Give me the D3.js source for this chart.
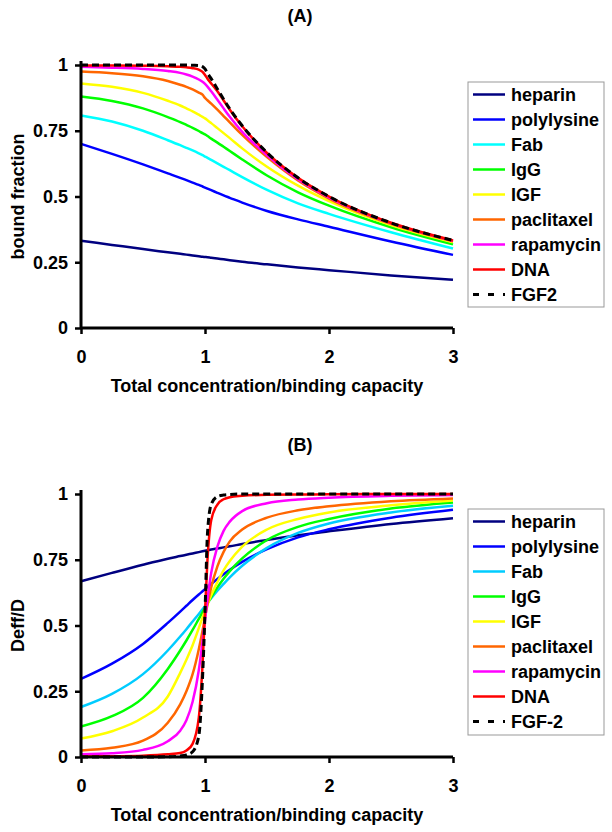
<!DOCTYPE html>
<html>
<head>
<meta charset="utf-8">
<script src="https://cdn.jsdelivr.net/npm/d3@7"></script>
<style>
  html, body { margin: 0; padding: 0; background: #fff; }
  svg { display: block; }
  text { font-family: "Liberation Sans", Arial, sans-serif; font-weight: bold; fill: #000; }
</style>
</head>
<body>
<svg id="chart" width="612" height="832"></svg>
<script>
// ---------- data ----------
const xGrid = [0, 0.25, 0.5, 0.7, 0.8, 0.85, 0.9, 0.95, 0.98, 1, 1.02, 1.05, 1.1, 1.15, 1.2, 1.3, 1.5, 1.75, 2, 2.5, 3];

const seriesNamesA = ["heparin", "polylysine", "Fab", "IgG", "IGF", "paclitaxel", "rapamycin", "DNA", "FGF2"];
const seriesNamesB = ["heparin", "polylysine", "Fab", "IgG", "IGF", "paclitaxel", "rapamycin", "DNA", "FGF-2"];
const xTicks = [0, 1, 2, 3];
const yTicks = [0, 0.25, 0.5, 0.75, 1];
const yTickLabels = ["0", "0.25", "0.5", "0.75", "1"];

// Panel A: bound fraction
const boundHeparin    = [0.332,0.316,0.300,0.288,0.282,0.279,0.276,0.273,0.271,0.270,0.269,0.267,0.264,0.261,0.258,0.252,0.242,0.230,0.220,0.200,0.183];
const boundPolylysine = [0.700,0.662,0.622,0.588,0.571,0.562,0.553,0.544,0.538,0.534,0.530,0.524,0.514,0.504,0.495,0.477,0.445,0.413,0.385,0.329,0.278];
const boundFab        = [0.808,0.785,0.750,0.714,0.695,0.685,0.675,0.664,0.657,0.652,0.647,0.639,0.626,0.613,0.600,0.574,0.525,0.474,0.434,0.364,0.302];
const boundIgG        = [0.880,0.863,0.835,0.802,0.783,0.772,0.761,0.749,0.741,0.736,0.730,0.720,0.705,0.689,0.673,0.641,0.580,0.516,0.465,0.383,0.318];
const boundIGF        = [0.930,0.917,0.894,0.864,0.846,0.835,0.824,0.811,0.803,0.797,0.790,0.779,0.760,0.741,0.722,0.683,0.613,0.541,0.482,0.391,0.326];
const boundPaclitaxel = [0.975,0.969,0.957,0.939,0.925,0.917,0.907,0.895,0.887,0.875,0.866,0.853,0.830,0.806,0.782,0.734,0.650,0.561,0.492,0.396,0.330];
const boundRapamycin  = [0.993,0.990,0.985,0.977,0.970,0.964,0.956,0.945,0.936,0.928,0.918,0.900,0.868,0.835,0.803,0.746,0.657,0.566,0.497,0.399,0.332];
const boundDNA        = [0.998,0.998,0.997,0.995,0.993,0.991,0.988,0.982,0.974,0.962,0.948,0.930,0.900,0.865,0.830,0.767,0.666,0.571,0.500,0.400,0.333];
const boundFGF2       = [1.000,1.000,1.000,1.000,1.000,1.000,0.999,0.998,0.994,0.985,0.968,0.948,0.909,0.870,0.833,0.769,0.667,0.571,0.500,0.400,0.333];

// Panel B: Deff/D
const deffHeparin    = [0.668,0.700,0.731,0.754,0.764,0.769,0.774,0.779,0.782,0.784,0.786,0.789,0.793,0.797,0.801,0.810,0.825,0.843,0.858,0.886,0.908];
const deffPolylysine = [0.297,0.355,0.430,0.510,0.553,0.575,0.597,0.618,0.630,0.638,0.646,0.658,0.677,0.695,0.712,0.742,0.790,0.835,0.866,0.910,0.940];
const deffFab        = [0.190,0.240,0.315,0.405,0.458,0.486,0.515,0.544,0.562,0.574,0.586,0.604,0.632,0.658,0.683,0.727,0.795,0.852,0.888,0.930,0.955];
const deffIgG        = [0.116,0.155,0.225,0.335,0.405,0.443,0.483,0.525,0.550,0.567,0.584,0.608,0.645,0.678,0.707,0.755,0.825,0.875,0.905,0.945,0.968];
const deffIGF        = [0.070,0.098,0.150,0.230,0.320,0.370,0.425,0.490,0.530,0.555,0.580,0.615,0.665,0.710,0.745,0.800,0.865,0.905,0.930,0.957,0.975];
const deffPaclitaxel = [0.025,0.035,0.062,0.130,0.200,0.250,0.315,0.410,0.480,0.530,0.580,0.645,0.725,0.780,0.820,0.865,0.910,0.938,0.953,0.972,0.983];
const deffRapamycin  = [0.010,0.014,0.027,0.060,0.100,0.140,0.210,0.330,0.440,0.520,0.600,0.700,0.800,0.860,0.895,0.935,0.965,0.979,0.986,0.993,0.996];
const deffDNA        = [0.002,0.003,0.005,0.010,0.015,0.025,0.050,0.150,0.350,0.550,0.750,0.900,0.960,0.980,0.988,0.993,0.997,0.998,0.999,1.000,1.000];
const deffFGF2       = [0.000,0.000,0.000,0.001,0.004,0.008,0.020,0.080,0.300,0.550,0.850,0.960,0.990,0.996,0.998,1.000,1.000,1.000,1.000,1.000,1.000];

const colorsA = ["#000080", "#0000FF", "#00FFFF", "#00FF00", "#FFFF00", "#FF6600", "#FF00FF", "#FF0000", "#000000"];
const colorsB = ["#000080", "#0000FF", "#00CCFF", "#00FF00", "#FFFF00", "#FF6600", "#FF00FF", "#FF0000", "#000000"];

const panels = [
  {
    title: "(A)", yLabel: "bound fraction", names: seriesNamesA, colors: colorsA,
    values: [boundHeparin, boundPolylysine, boundFab, boundIgG, boundIGF, boundPaclitaxel, boundRapamycin, boundDNA, boundFGF2],
    top: 65, bottom: 328, titleY: 22, legendTop: 82, legendH: 225
  },
  {
    title: "(B)", yLabel: "Deff/D", names: seriesNamesB, colors: colorsB,
    values: [deffHeparin, deffPolylysine, deffFab, deffIgG, deffIGF, deffPaclitaxel, deffRapamycin, deffDNA, deffFGF2],
    top: 494, bottom: 757, titleY: 451, legendTop: 509, legendH: 226
  }
];

// ---------- drawing ----------
const svg = d3.select("#chart");
svg.append("rect").attr("width", 612).attr("height", 832).attr("fill", "#fff");

const x = d3.scaleLinear().domain([0, 3]).range([81, 453]);

panels.forEach(p => {
  const g = svg.append("g");
  const y = d3.scaleLinear().domain([0, 1]).range([p.bottom, p.top]);

  g.append("text").attr("x", 300).attr("y", p.titleY)
    .attr("text-anchor", "middle").attr("font-size", 18).text(p.title);

  // curves
  const line = d3.line().x((d, i) => x(xGrid[i])).y(d => y(d)).curve(d3.curveMonotoneX);
  p.values.forEach((vals, k) => {
    const dashed = k === 8;
    g.append("path").datum(vals)
      .attr("d", line)
      .attr("fill", "none")
      .attr("stroke", p.colors[k])
      .attr("stroke-width", dashed ? 3 : 2.5)
      .attr("stroke-dasharray", dashed ? "7,4" : null)
      .attr("stroke-linejoin", "round");
  });

  // axes
  const yAxis = d3.axisLeft(y).tickValues(yTicks)
    .tickFormat((d, i) => yTickLabels[i]).tickSize(6).tickPadding(7);
  const ya = g.append("g").attr("transform", `translate(${x(0)},0)`).call(yAxis);
  const xAxis = d3.axisBottom(x).tickValues(xTicks).tickFormat(d3.format("d")).tickSize(6).tickPadding(16);
  const xa = g.append("g").attr("transform", `translate(0,${p.bottom})`).call(xAxis);
  [ya, xa].forEach(a => {
    a.select(".domain").attr("stroke", "#000").attr("stroke-width", 3)
      .attr("d", a === ya ? `M0,${p.top - 4}V${p.bottom}` : `M${x(0)},0H${x(3)}`);
    a.selectAll(".tick line").attr("stroke", "#000").attr("stroke-width", 2.5);
    a.selectAll(".tick text").attr("font-size", 18).attr("font-family", "Liberation Sans, Arial, sans-serif")
      .attr("font-weight", "bold").attr("fill", "#000");
  });

  // axis titles
  g.append("text").attr("x", (x(0) + x(3)) / 2).attr("y", p.bottom + 64)
    .attr("text-anchor", "middle").attr("font-size", 18)
    .text("Total concentration/binding capacity");
  g.append("text")
    .attr("transform", `translate(24,${(p.top + p.bottom) / 2}) rotate(-90)`)
    .attr("text-anchor", "middle").attr("font-size", 18).text(p.yLabel);

  // legend
  const lg = g.append("g").attr("transform", `translate(468,${p.legendTop})`);
  lg.append("rect").attr("width", 136).attr("height", p.legendH)
    .attr("fill", "#fff").attr("stroke", "#999").attr("stroke-width", 1);
  p.names.forEach((name, k) => {
    const cy = 12.5 + k * 25;
    lg.append("line").attr("x1", 5).attr("x2", 37).attr("y1", cy).attr("y2", cy)
      .attr("stroke", p.colors[k]).attr("stroke-width", k === 8 ? 3 : 2.5)
      .attr("stroke-dasharray", k === 8 ? "6,9" : null);
    lg.append("text").attr("x", 43).attr("y", cy + 6.5).attr("font-size", 18).text(name);
  });
});
</script>
</body>
</html>
